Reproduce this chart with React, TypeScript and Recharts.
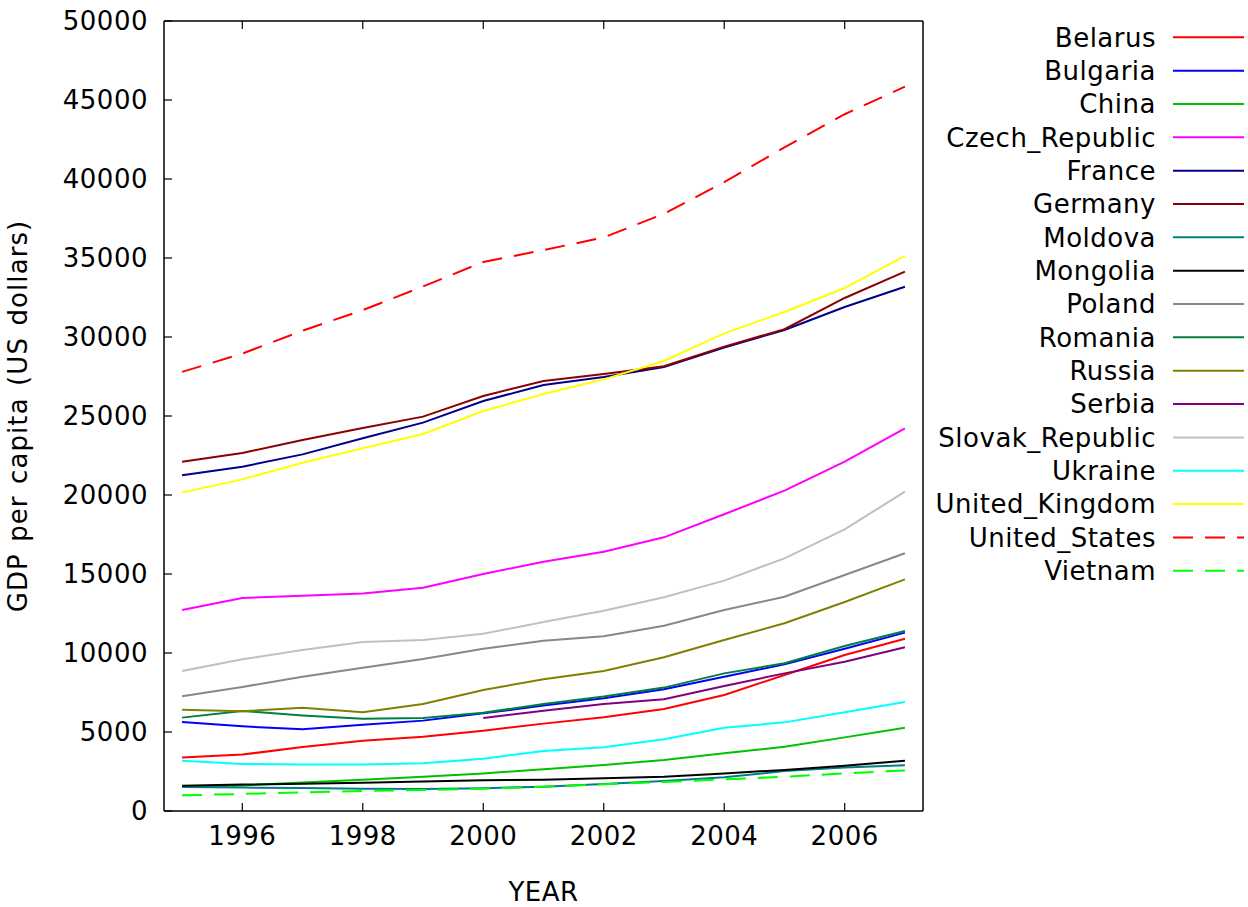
import React from 'react';
import { LineChart, Line, XAxis, YAxis, Legend } from 'recharts';

// GDP per capita, US dollars, 1995-2007
const years = [1995, 1996, 1997, 1998, 1999, 2000, 2001, 2002, 2003, 2004, 2005, 2006, 2007];

const belarus = [3380, 3570, 4050, 4450, 4700, 5080, 5530, 5930, 6460, 7340, 8610, 9870, 10900];
const bulgaria = [5630, 5360, 5170, 5460, 5720, 6180, 6670, 7130, 7700, 8500, 9280, 10270, 11290];
const china = [1540, 1620, 1810, 1980, 2170, 2380, 2640, 2910, 3230, 3650, 4070, 4660, 5270];
const czechRepublic = [12720, 13480, 13630, 13760, 14130, 15000, 15780, 16410, 17320, 18780, 20280, 22110, 24220];
const france = [21250, 21790, 22570, 23590, 24580, 25950, 26960, 27470, 28100, 29340, 30440, 31900, 33180];
const germany = [22110, 22660, 23480, 24240, 24960, 26270, 27220, 27660, 28150, 29390, 30490, 32470, 34140];
const moldova = [1520, 1480, 1460, 1410, 1390, 1440, 1540, 1710, 1900, 2130, 2530, 2760, 2890];
const mongolia = [1600, 1670, 1730, 1790, 1860, 1940, 1980, 2070, 2170, 2380, 2600, 2870, 3180];
const poland = [7260, 7850, 8500, 9070, 9620, 10270, 10780, 11060, 11730, 12720, 13560, 14940, 16310];
const romania = [5910, 6330, 6050, 5840, 5890, 6220, 6770, 7240, 7810, 8710, 9350, 10440, 11390];
const russia = [6410, 6310, 6540, 6250, 6770, 7660, 8340, 8860, 9730, 10820, 11880, 13230, 14660];
const serbia = [null, null, null, null, null, 5890, 6350, 6770, 7070, 7910, 8710, 9450, 10360];
const slovakRepublic = [8860, 9600, 10190, 10700, 10820, 11220, 11960, 12680, 13530, 14580, 15990, 17830, 20210];
const ukraine = [3180, 2980, 2950, 2950, 3020, 3310, 3800, 4030, 4540, 5270, 5610, 6250, 6900];
const unitedKingdom = [20150, 20990, 22040, 22960, 23860, 25320, 26390, 27320, 28480, 30230, 31580, 33100, 35130];
const unitedStates = [27790, 28950, 30400, 31700, 33200, 34750, 35500, 36300, 37800, 39800, 42000, 44100, 45850];
const vietnam = [990, 1080, 1180, 1270, 1330, 1410, 1540, 1690, 1840, 2000, 2170, 2380, 2570];

const xTicks = [1996, 1998, 2000, 2002, 2004, 2006];
const yTicks = [0, 5000, 10000, 15000, 20000, 25000, 30000, 35000, 40000, 45000, 50000];

const DASH = '20 12';

const series = [
  { name: 'Belarus', values: belarus, color: '#ff0000' },
  { name: 'Bulgaria', values: bulgaria, color: '#0000ff' },
  { name: 'China', values: china, color: '#00c000' },
  { name: 'Czech_Republic', values: czechRepublic, color: '#ff00ff' },
  { name: 'France', values: france, color: '#00008b' },
  { name: 'Germany', values: germany, color: '#8b0000' },
  { name: 'Moldova', values: moldova, color: '#008080' },
  { name: 'Mongolia', values: mongolia, color: '#000000' },
  { name: 'Poland', values: poland, color: '#888888' },
  { name: 'Romania', values: romania, color: '#008040' },
  { name: 'Russia', values: russia, color: '#808000' },
  { name: 'Serbia', values: serbia, color: '#800080' },
  { name: 'Slovak_Republic', values: slovakRepublic, color: '#c0c0c0' },
  { name: 'Ukraine', values: ukraine, color: '#00ffff' },
  { name: 'United_Kingdom', values: unitedKingdom, color: '#ffff00' },
  { name: 'United_States', values: unitedStates, color: '#ff0000', dash: DASH },
  { name: 'Vietnam', values: vietnam, color: '#00ff00', dash: DASH },
];

const data = years.map((year, i) => {
  const row: Record<string, number | null> = { year };
  series.forEach((s) => {
    row[s.name] = s.values[i];
  });
  return row;
});

const FONT = '"DejaVu Sans", sans-serif';
const FONT_SIZE = 26;
const SPACING = 0.5;
const TICK_LEN = 8;

const textStyle = { fontFamily: FONT, fontSize: FONT_SIZE, letterSpacing: SPACING };

// tickSize is 0 everywhere, so x/y handed to these sit right on the axis line
const LeftTick = ({ x, y, payload }: any) => (
  <g>
    <line x1={x} x2={x + TICK_LEN} y1={y} y2={y} stroke="#000" strokeWidth={1.2} />
    <text x={x - 16} y={y} textAnchor="end" dominantBaseline="central" style={textStyle} fill="#000">
      {payload.value}
    </text>
  </g>
);

const RightTick = ({ x, y }: any) => (
  <line x1={x} x2={x - TICK_LEN} y1={y} y2={y} stroke="#000" strokeWidth={1.2} />
);

const BottomTick = ({ x, y, payload }: any) => (
  <g>
    <line x1={x} x2={x} y1={y} y2={y - TICK_LEN} stroke="#000" strokeWidth={1.2} />
    <text x={x} y={y + 25} textAnchor="middle" dominantBaseline="central" style={textStyle} fill="#000">
      {payload.value}
    </text>
  </g>
);

const TopTick = ({ x, y }: any) => (
  <line x1={x} x2={x} y1={y} y2={y + TICK_LEN} stroke="#000" strokeWidth={1.2} />
);

const YearLabel = ({ viewBox }: any) => (
  <text
    x={viewBox.x + viewBox.width / 2}
    y={viewBox.y + viewBox.height - 6}
    textAnchor="middle"
    style={textStyle}
    fill="#000"
  >
    YEAR
  </text>
);

const GdpLabel = ({ viewBox }: any) => {
  const cx = viewBox.x + 18;
  const cy = viewBox.y + viewBox.height / 2;
  return (
    <text
      x={cx}
      y={cy}
      transform={`rotate(-90 ${cx} ${cy})`}
      textAnchor="middle"
      dominantBaseline="central"
      style={{ ...textStyle, letterSpacing: 1.1, wordSpacing: 2 }}
      fill="#000"
    >
      GDP per capita (US dollars)
    </text>
  );
};

const ROW = 33.34;

const KeyBox = () => (
  <svg width={318} height={570} style={{ display: 'block' }}>
    {series.map((s, i) => {
      const cy = 17.3 + i * ROW;
      return (
        <g key={s.name}>
          <text x={226} y={cy + 9.3} textAnchor="end" style={textStyle} fill="#000">
            {s.name}
          </text>
          <line x1={243} x2={314} y1={cy} y2={cy} stroke={s.color} strokeWidth={2} strokeDasharray={s.dash} />
        </g>
      );
    })}
  </svg>
);

const axisLine = { stroke: '#000', strokeWidth: 1.5 };

export default function App() {
  return (
    <div style={{ position: 'absolute', left: 0, top: 0, background: '#fff' }}>
      <LineChart width={1248} height={907} data={data} margin={{ top: 20, right: 324, bottom: 0, left: 0 }}>
        <XAxis
          dataKey="year"
          type="number"
          domain={[1994.7, 2007.3]}
          ticks={xTicks}
          interval={0}
          height={96}
          tickSize={0}
          tickMargin={0}
          tickLine={false}
          axisLine={axisLine}
          tick={<BottomTick />}
          label={<YearLabel />}
        />
        <XAxis
          xAxisId="top"
          orientation="top"
          dataKey="year"
          type="number"
          domain={[1994.7, 2007.3]}
          ticks={xTicks}
          interval={0}
          height={1}
          tickSize={0}
          tickMargin={0}
          tickLine={false}
          axisLine={axisLine}
          tick={<TopTick />}
        />
        <YAxis
          type="number"
          domain={[0, 50000]}
          ticks={yTicks}
          interval={0}
          width={164}
          tickSize={0}
          tickMargin={0}
          tickLine={false}
          axisLine={axisLine}
          tick={<LeftTick />}
          label={<GdpLabel />}
        />
        <YAxis
          yAxisId="right"
          orientation="right"
          type="number"
          domain={[0, 50000]}
          ticks={yTicks}
          interval={0}
          width={1}
          tickSize={0}
          tickMargin={0}
          tickLine={false}
          axisLine={axisLine}
          tick={<RightTick />}
        />
        <Legend
          layout="horizontal"
          align="center"
          verticalAlign="middle"
          wrapperStyle={{ top: 20, left: 930, width: 318, height: 570 }}
          content={() => <KeyBox />}
        />
        {series.map((s) => (
          <Line
            key={s.name}
            type="linear"
            dataKey={s.name}
            name={s.name}
            stroke={s.color}
            strokeWidth={2}
            strokeDasharray={s.dash}
            dot={false}
            activeDot={false}
            isAnimationActive={false}
          />
        ))}
      </LineChart>
    </div>
  );
}
